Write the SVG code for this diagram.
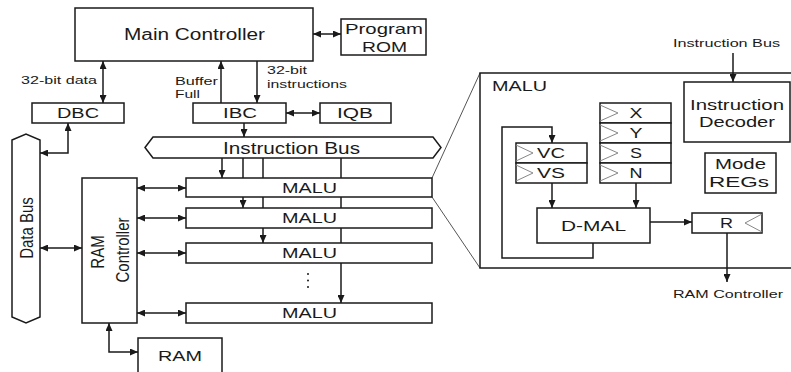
<svg xmlns="http://www.w3.org/2000/svg" width="791" height="372" viewBox="0 0 791 372">
<defs>
<marker id="ah" viewBox="0 0 8 7" refX="8" refY="3.5" markerWidth="8" markerHeight="7" markerUnits="userSpaceOnUse" orient="auto-start-reverse">
<path d="M0,0 L8,3.5 L0,7 z" fill="#1a1a1a"/>
</marker>
</defs>
<style>
.b{fill:#fff;stroke:#1a1a1a;stroke-width:1.5}
.l{fill:none;stroke:#1a1a1a;stroke-width:1.5}
.a{fill:none;stroke:#1a1a1a;stroke-width:1.5;marker-end:url(#ah)}
.d{fill:none;stroke:#1a1a1a;stroke-width:1.5;marker-start:url(#ah);marker-end:url(#ah)}
.z{fill:none;stroke:#555;stroke-width:1}
.tri{fill:none;stroke:#888;stroke-width:1}
text{font-family:"Liberation Sans",Arial,sans-serif;fill:#1a1a1a;text-anchor:middle}
.t16{font-size:16px}
.t15{font-size:15px}
.t14{font-size:14px}
.t11{font-size:11px}
.s{text-anchor:start}
</style>
<rect width="791" height="372" fill="#fff"/>

<g id="connectors">
<line class="d" x1="313" y1="34" x2="341" y2="34"/>
<line class="d" x1="103" y1="61" x2="103" y2="103"/>
<line class="a" x1="221" y1="103" x2="221" y2="61"/>
<line class="a" x1="257" y1="61" x2="257" y2="103"/>
<line class="d" x1="286" y1="113" x2="320" y2="113"/>
<line class="a" x1="244" y1="123" x2="244" y2="137"/>
<path class="d" d="M68,123 V153 H40"/>
<line class="d" x1="40" y1="248" x2="82" y2="248"/>
<path class="d" d="M109,323 V352 H138"/>
<line class="d" x1="137" y1="188" x2="186" y2="188"/>
<line class="d" x1="137" y1="218" x2="186" y2="218"/>
<line class="d" x1="137" y1="253" x2="186" y2="253"/>
<line class="d" x1="137" y1="313" x2="186" y2="313"/>
<line class="a" x1="222" y1="158" x2="222" y2="178"/>
<line class="a" x1="243" y1="158" x2="243" y2="208"/>
<line class="a" x1="263" y1="158" x2="263" y2="243"/>
<line class="a" x1="341" y1="158" x2="341" y2="303"/>
<line class="z" x1="432" y1="178" x2="480" y2="73"/>
<line class="z" x1="432" y1="197" x2="480" y2="268"/>
<line class="a" x1="733" y1="53" x2="733" y2="82"/>
<path class="a" d="M593,243 V258 H502 V127 H552 V143"/>
<line class="a" x1="552" y1="183" x2="552" y2="208"/>
<line class="a" x1="636" y1="183" x2="636" y2="208"/>
<line class="a" x1="650" y1="222" x2="692" y2="222"/>
<line class="a" x1="727" y1="233" x2="727" y2="282"/>
</g>

<g id="main-controller">
<rect class="b" x="75" y="8" width="238" height="53"/>
<text class="t16" x="194.5" y="40" textLength="141" lengthAdjust="spacingAndGlyphs">Main Controller</text>
</g>
<g id="program-rom">
<rect class="b" x="341" y="19" width="85" height="36"/>
<text class="t15" x="384" y="34" textLength="78" lengthAdjust="spacingAndGlyphs">Program</text>
<text class="t15" x="384.5" y="52" textLength="45" lengthAdjust="spacingAndGlyphs">ROM</text>
</g>
<g id="labels">
<text class="t11" x="59" y="84" textLength="76" lengthAdjust="spacingAndGlyphs">32-bit data</text>
<text class="t11 s" x="175" y="85" textLength="43" lengthAdjust="spacingAndGlyphs">Buffer</text>
<text class="t11 s" x="175" y="98" textLength="25" lengthAdjust="spacingAndGlyphs">Full</text>
<text class="t11 s" x="267" y="74" textLength="40" lengthAdjust="spacingAndGlyphs">32-bit</text>
<text class="t11 s" x="267" y="88" textLength="80" lengthAdjust="spacingAndGlyphs">instructions</text>
<text class="t11" x="726.5" y="47" textLength="107" lengthAdjust="spacingAndGlyphs">Instruction Bus</text>
<text class="t11" x="728" y="298" textLength="110" lengthAdjust="spacingAndGlyphs">RAM Controller</text>
</g>
<g id="dbc">
<rect class="b" x="32" y="103" width="92" height="20"/>
<text class="t14" x="78" y="118" textLength="42" lengthAdjust="spacingAndGlyphs">DBC</text>
</g>
<g id="ibc">
<rect class="b" x="193" y="103" width="93" height="20"/>
<text class="t14" x="240" y="118" textLength="34" lengthAdjust="spacingAndGlyphs">IBC</text>
</g>
<g id="iqb">
<rect class="b" x="320" y="103" width="71" height="20"/>
<text class="t14" x="355" y="118" textLength="36" lengthAdjust="spacingAndGlyphs">IQB</text>
</g>
<g id="instruction-bus">
<polygon class="b" points="145,147.5 153,137 433,137 441,147.5 433,158 153,158"/>
<text class="t16" x="291.5" y="154" textLength="137" lengthAdjust="spacingAndGlyphs">Instruction Bus</text>
</g>
<g id="data-bus">
<polygon class="b" points="12,140 26,134 40,140 40,317 26,323 12,317"/>
<text class="t15" transform="translate(32.5,228) scale(1.25,1) rotate(-90)">Data Bus</text>
</g>
<g id="ram-controller">
<rect class="b" x="82" y="178" width="55" height="145"/>
<text class="t15" transform="translate(103.5,252) scale(1.25,1) rotate(-90)">RAM</text>
<text class="t15" transform="translate(129,250) scale(1.25,1) rotate(-90)">Controller</text>
</g>
<g id="malu1">
<rect class="b" x="186" y="178" width="246" height="19"/>
<text class="t15" x="309.5" y="193" textLength="55" lengthAdjust="spacingAndGlyphs">MALU</text>
</g>
<g id="malu2">
<rect class="b" x="186" y="208" width="246" height="20"/>
<text class="t15" x="309.5" y="223" textLength="55" lengthAdjust="spacingAndGlyphs">MALU</text>
</g>
<g id="malu3">
<rect class="b" x="186" y="243" width="246" height="20"/>
<text class="t15" x="309.5" y="258" textLength="55" lengthAdjust="spacingAndGlyphs">MALU</text>
</g>
<g id="dots">
<circle cx="308" cy="274" r="1" fill="#1a1a1a"/>
<circle cx="308" cy="280.5" r="1" fill="#1a1a1a"/>
<circle cx="308" cy="287" r="1" fill="#1a1a1a"/>
</g>
<g id="malu4">
<rect class="b" x="186" y="303" width="246" height="20"/>
<text class="t15" x="309.5" y="318" textLength="55" lengthAdjust="spacingAndGlyphs">MALU</text>
</g>
<g id="ram">
<rect class="b" x="138" y="338" width="84" height="40"/>
<text class="t15" x="180" y="361" textLength="44" lengthAdjust="spacingAndGlyphs">RAM</text>
</g>

<g id="malu-detail">
<rect x="480" y="73" width="320" height="195" fill="none" stroke="#1a1a1a" stroke-width="1.5"/>
<text class="t15 s" x="492" y="91" textLength="55" lengthAdjust="spacingAndGlyphs">MALU</text>
</g>
<g id="instruction-decoder">
<rect class="b" x="684" y="82" width="106" height="60"/>
<text class="t15" x="737" y="110" textLength="94" lengthAdjust="spacingAndGlyphs">Instruction</text>
<text class="t15" x="737" y="127" textLength="76" lengthAdjust="spacingAndGlyphs">Decoder</text>
</g>
<g id="mode-regs">
<rect class="b" x="705" y="153" width="71" height="40"/>
<text class="t15" x="740.5" y="169" textLength="51" lengthAdjust="spacingAndGlyphs">Mode</text>
<text class="t15" x="739" y="187" textLength="60" lengthAdjust="spacingAndGlyphs">REGs</text>
</g>
<g id="vc-vs">
<rect class="b" x="516" y="143" width="71" height="20"/>
<rect class="b" x="516" y="163" width="71" height="20"/>
<polyline class="tri" points="516,145 533,153 516,161"/>
<polyline class="tri" points="516,165 533,173 516,181"/>
<text class="t15" x="551" y="158" textLength="28" lengthAdjust="spacingAndGlyphs">VC</text>
<text class="t15" x="551" y="178" textLength="28" lengthAdjust="spacingAndGlyphs">VS</text>
</g>
<g id="xysn">
<rect class="b" x="600" y="103" width="71" height="20"/>
<rect class="b" x="600" y="123" width="71" height="20"/>
<rect class="b" x="600" y="143" width="71" height="20"/>
<rect class="b" x="600" y="163" width="71" height="20"/>
<polyline class="tri" points="600,105 618,113 600,121"/>
<polyline class="tri" points="600,125 618,133 600,141"/>
<polyline class="tri" points="600,145 618,153 600,161"/>
<polyline class="tri" points="600,165 618,173 600,181"/>
<text class="t15" x="636" y="118" textLength="13" lengthAdjust="spacingAndGlyphs">X</text>
<text class="t15" x="636" y="138" textLength="13" lengthAdjust="spacingAndGlyphs">Y</text>
<text class="t15" x="636" y="158" textLength="12" lengthAdjust="spacingAndGlyphs">S</text>
<text class="t15" x="636" y="178" textLength="13" lengthAdjust="spacingAndGlyphs">N</text>
</g>
<g id="d-mal">
<rect class="b" x="537" y="208" width="113" height="35"/>
<text class="t15" x="593.5" y="231" textLength="65" lengthAdjust="spacingAndGlyphs">D-MAL</text>
</g>
<g id="r">
<rect class="b" x="692" y="213" width="70" height="20"/>
<polyline class="tri" points="762,214 745,223 762,232"/>
<text class="t15" x="726.5" y="228" textLength="13" lengthAdjust="spacingAndGlyphs">R</text>
</g>
</svg>
